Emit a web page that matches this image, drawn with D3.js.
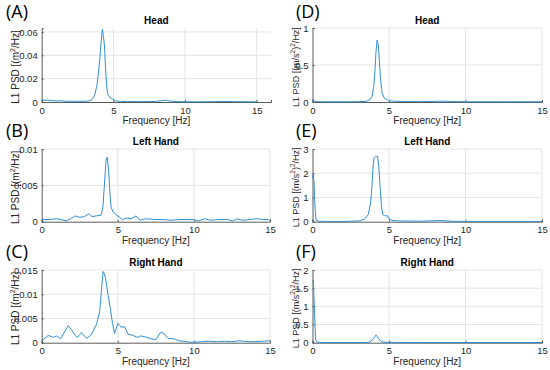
<!DOCTYPE html>
<html>
<head>
<meta charset="utf-8">
<script src="https://cdn.jsdelivr.net/npm/d3@7"></script>
<style>
  body { margin: 0; background: #fff; }
  svg { font-family: "Liberation Sans", Arial, sans-serif; }
  .grid line { stroke: #e3e3e3; stroke-width: 1; }
  .axis path, .axis line { stroke: #5a5a5a; }
  .axis text { fill: #262626; font-size: 9.5px; }
  .psd { fill: none; stroke: #2f8fd6; stroke-width: 1; }
  .title { font-size: 10px; font-weight: bold; fill: #000; text-anchor: middle; }
  .xlabel, .ylabel { font-size: 10px; fill: #262626; text-anchor: middle; }
  .tag { font-size: 18px; fill: #000; font-family: "Open Sans", "Liberation Sans", sans-serif; }
</style>
</head>
<body>
<svg width="550" height="370"></svg>
<script>
// [frequency Hz, PSD]
var headDisp = [[0,0.0016],[0.3,0.0016],[0.6,0.0013],[1,0.0009],[1.3,0.0011],[1.6,0.0007],[2,0.0006],[2.5,0.0006],[3,0.0006],[3.3,0.0008],[3.5,0.0018],[3.7,0.006],[3.85,0.014],[3.95,0.024],[4.05,0.036],[4.15,0.052],[4.23,0.0622],[4.3,0.057],[4.37,0.05],[4.45,0.03],[4.52,0.015],[4.6,0.007],[4.75,0.004],[4.95,0.0025],[5.15,0.001],[5.5,0.0005],[6,0.0004],[7,0.0003],[8,0.0005],[8.4,0.0012],[8.7,0.0014],[9,0.0007],[9.5,0.0003],[10,0.0002],[11,0.0002],[12,0.0003],[12.8,0.0005],[13.5,0.0003],[14.5,0.0002],[15,0.0002]];
var leftDisp = [[0,0.0003],[0.5,0.0003],[1,0.0004],[1.3,0.0003],[1.6,0.0001],[1.9,0.0004],[2.2,0.0008],[2.5,0.0006],[2.8,0.0007],[3.1,0.0011],[3.3,0.0007],[3.6,0.0008],[3.9,0.0009],[4.02,0.002],[4.12,0.005],[4.22,0.0083],[4.31,0.0089],[4.4,0.007],[4.48,0.004],[4.56,0.002],[4.7,0.0013],[5.0,0.0008],[5.3,0.0003],[5.6,0.0005],[5.9,0.0004],[6.2,0.0008],[6.45,0.0002],[6.8,0.0004],[7.5,0.0003],[8,0.0003],[8.5,0.0002],[9,0.0003],[9.6,0.0003],[10,0.0003],[10.3,0.0001],[10.7,0.0004],[11.1,0.0002],[11.6,0.0003],[12.2,0.0003],[12.6,0.0001],[12.8,0.0004],[13.2,0.0002],[13.7,0.0003],[14.1,0.0004],[14.6,0.0003],[14.9,0.0003],[15,0.0001]];
var rightDisp = [[0,0.0004],[0.43,0.0015],[0.76,0.0011],[0.98,0.0014],[1.24,0.0008],[1.5,0.0022],[1.74,0.0035],[1.96,0.0027],[2.2,0.0015],[2.35,0.0011],[2.61,0.0021],[2.94,0.0009],[3.27,0.0017],[3.6,0.0038],[3.81,0.0064],[3.93,0.011],[4.03,0.0147],[4.12,0.0142],[4.2,0.0132],[4.35,0.01],[4.52,0.0069],[4.65,0.004],[4.79,0.0019],[5.01,0.004],[5.23,0.0032],[5.45,0.0033],[5.66,0.0018],[5.99,0.0015],[6.3,0.0011],[6.5,0.0014],[6.8,0.0012],[7.2,0.0008],[7.5,0.0006],[7.8,0.0021],[8.0,0.002],[8.3,0.0009],[8.7,0.0008],[9,0.0004],[9.3,0.0003],[9.7,0.0001],[10,0.0001],[10.5,0.0002],[11,0.0003],[11.5,0.0002],[12,0.0003],[12.5,0.0002],[13,0.0004],[13.5,0.0002],[14,0.0002],[14.5,0.0003],[15,0.0004]];
var headAcc = [[0,0.035],[0.05,0.03],[0.15,0.01],[0.3,0.005],[1,0.003],[2,0.003],[3,0.004],[3.5,0.008],[3.75,0.03],[3.9,0.08],[4.0,0.2],[4.08,0.42],[4.15,0.68],[4.22,0.835],[4.3,0.78],[4.37,0.55],[4.45,0.3],[4.55,0.12],[4.7,0.05],[4.9,0.03],[5.1,0.015],[5.5,0.008],[7,0.005],[8.3,0.01],[8.6,0.012],[9,0.006],[10,0.003],[12,0.003],[15,0.003]];
var leftAcc = [[0,1.8],[0.05,1.95],[0.1,1.6],[0.17,0.5],[0.24,0.05],[0.4,0.02],[1,0.01],[2,0.01],[3,0.03],[3.4,0.1],[3.65,0.3],[3.8,0.8],[3.88,1.4],[3.96,2.3],[4.03,2.65],[4.1,2.7],[4.25,2.7],[4.33,2.3],[4.42,1.4],[4.5,0.7],[4.58,0.3],[4.7,0.25],[4.9,0.24],[5.0,0.12],[5.2,0.06],[5.6,0.03],[7,0.02],[8.4,0.05],[9,0.02],[10,0.01],[12,0.01],[15,0.01]];
var rightAcc = [[0,1.7],[0.05,1.72],[0.1,1.2],[0.2,0.1],[0.3,0.01],[1,0.005],[2,0.005],[3,0.005],[3.7,0.01],[3.9,0.08],[4.05,0.15],[4.15,0.21],[4.3,0.13],[4.45,0.05],[4.6,0.02],[4.8,0.01],[5,0.01],[7,0.005],[10,0.005],[15,0.005]];

var titles = ["Head", "Left Hand", "Right Hand"];
var tags = ["(A)", "(B)", "(C)", "(D)", "(E)", "(F)"];
var xTicks = [0, 5, 10, 15];
var yTicksDisp = [[0, 0.02, 0.04, 0.06], [0, 0.005, 0.01], [0, 0.005, 0.01, 0.015]];
var yTicksAcc = [[0, 0.5, 1], [0, 1, 2, 3], [0, 0.5, 1, 1.5, 2]];
var yMaxDisp = [0.0634, 0.01, 0.015];
var yMaxAcc = [1, 3, 2];

var svg = d3.select("svg");

// axes boxes: rows [yBottom, yTop], cols [x0, x1]
var rows = [[102, 28], [221.7, 149], [342.7, 270]];
var cols = [[41.7, 270], [312.5, 542]];
var tagY = [18, 137, 258];

var panels = [];
for (var i = 0; i < 3; i++) {
  panels.push({ tag: tags[i], col: 0, row: i, title: titles[i],
    data: [headDisp, leftDisp, rightDisp][i], xMax: i == 0 ? 16 : 15,
    yMax: yMaxDisp[i], yTicks: yTicksDisp[i], ylab: "disp" });
}
for (var i = 0; i < 3; i++) {
  panels.push({ tag: tags[i + 3], col: 1, row: i, title: titles[i],
    data: [headAcc, leftAcc, rightAcc][i], xMax: 15,
    yMax: yMaxAcc[i], yTicks: yTicksAcc[i], ylab: "acc" });
}

panels.forEach(function(p) {
  var c = cols[p.col], r = rows[p.row];
  var x = d3.scaleLinear().domain([0, p.xMax]).range([c[0], p.xMax == 16 ? 271 : c[1]]);
  var y = d3.scaleLinear().domain([0, p.yMax]).range([r[0], r[1]]);
  var g = svg.append("g");

  var grid = g.append("g").attr("class", "grid");
  grid.selectAll("line.gx").data(xTicks.filter(function(d) { return d > 0; }))
    .enter().append("line")
    .attr("x1", function(d) { return x(d); }).attr("x2", function(d) { return x(d); })
    .attr("y1", r[0]).attr("y2", r[1]);
  grid.selectAll("line.gy").data(p.yTicks.filter(function(d) { return d > 0; }))
    .enter().append("line")
    .attr("x1", x.range()[0]).attr("x2", x.range()[1])
    .attr("y1", function(d) { return y(d); }).attr("y2", function(d) { return y(d); });

  g.append("g").attr("class", "axis")
    .attr("transform", "translate(0," + r[0] + ")")
    .call(d3.axisBottom(x).tickValues(xTicks).tickSize(-2).tickPadding(5).tickFormat(d3.format("d")));
  g.append("g").attr("class", "axis")
    .attr("transform", "translate(" + c[0] + ",0)")
    .call(d3.axisLeft(y).tickValues(p.yTicks).tickSize(-2).tickPadding(4).tickFormat(function(d) { return String(d); }));

  g.append("path").datum(p.data)
    .attr("class", "psd")
    .attr("d", d3.line().x(function(d) { return x(d[0]); }).y(function(d) { return y(d[1]); }));

  var mid = (x.range()[0] + x.range()[1]) / 2;
  g.append("text").attr("class", "title").attr("x", mid).attr("y", r[1] - 4).text(p.title);
  g.append("text").attr("class", "xlabel").attr("x", mid).attr("y", r[0] + 22).text("Frequency [Hz]");

  var ly = g.append("text").attr("class", "ylabel")
    .attr("transform", "translate(" + (c[0] - (p.col == 0 ? 23 : 14)) + "," + ((r[0] + r[1]) / 2 + 2) + ") rotate(-90)");
  if (p.ylab == "disp") {
    ly.append("tspan").text("L1 PSD [(m");
    ly.append("tspan").attr("dy", -4).attr("font-size", "7px").text("2");
    ly.append("tspan").attr("dy", 4).text("/Hz]");
  } else {
    ly.style("font-size", "9px");
    ly.append("tspan").text("L1 PSD [(m/s");
    ly.append("tspan").attr("dy", -4).attr("font-size", "6.5px").text("2");
    ly.append("tspan").attr("dy", 4).text(")");
    ly.append("tspan").attr("dy", -4).attr("font-size", "6.5px").text("2");
    ly.append("tspan").attr("dy", 4).text("/Hz]");
  }

  g.append("text").attr("class", "tag")
    .attr("x", p.col == 0 ? 6 : 296)
    .attr("y", tagY[p.row])
    .text(p.tag);
});
</script>
</body>
</html>
